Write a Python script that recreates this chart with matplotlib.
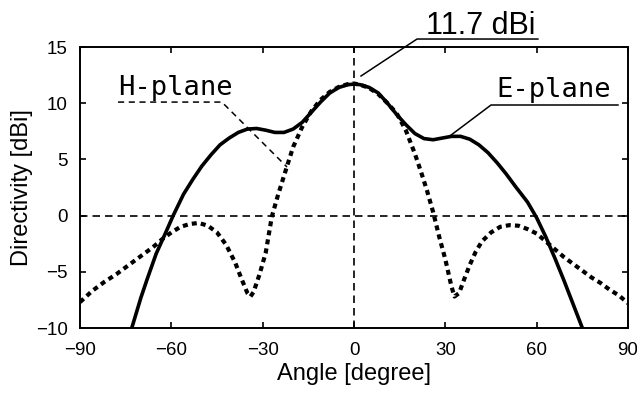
import matplotlib
matplotlib.use("Agg")
import matplotlib.pyplot as plt

# ---- data ----
e_angle = [-73, -70, -68, -65, -62, -59.4, -56, -53, -50, -47, -44, -41, -38, -35, -32, -29, -26, -23,
           -20, -17, -14, -11, -8, -5, -2, 0, 2, 5, 8, 11, 14, 17, 20, 23, 26, 29, 32, 35, 38, 41, 44,
           47, 50, 53, 57, 60, 63, 66, 69, 72, 75]
e_dbi = [-10, -7.3, -5.7, -3.4, -1.6, 0, 1.9, 3.2, 4.4, 5.4, 6.3, 6.9, 7.4, 7.7, 7.75, 7.6, 7.4, 7.4,
         7.7, 8.3, 9.2, 10.1, 10.9, 11.4, 11.65, 11.7, 11.65, 11.4, 10.9, 10.0, 9.0, 8.1, 7.3, 6.85,
         6.75, 6.9, 7.05, 7.05, 6.8, 6.3, 5.6, 4.7, 3.7, 2.6, 1.2, -0.2, -1.9, -3.8, -5.8, -7.9, -10]

h_angle = [-90, -86, -82, -78, -75, -72, -69, -66, -63, -60, -57, -54, -51, -48, -45, -42, -39, -37,
           -35, -34, -33, -31, -29, -27, -25, -22, -20, -17, -14, -11, -8, -5, -2, 0, 2, 5, 8, 11, 14,
           17, 20, 22, 24, 26, 28, 30, 32, 33, 34.5, 36, 38, 40, 42, 45, 48, 51, 54, 57, 60, 63, 66,
           69, 72, 75, 78, 81, 84, 87, 90]
h_dbi = [-7.7, -6.7, -5.9, -5.2, -4.6, -4.0, -3.4, -2.8, -2.1, -1.5, -1.0, -0.75, -0.65, -0.9, -1.5,
         -2.6, -4.2, -5.6, -6.9, -7.2, -6.8, -5.2, -3.3, -0.1, 1.8, 4.4, 6.1, 7.9, 9.3, 10.3, 11.0,
         11.45, 11.7, 11.75, 11.65, 11.35, 10.8, 10.0, 9.1, 7.6, 5.5, 3.9, 2.2, 0.3, -1.9, -3.9, -6.3,
         -7.2, -6.9, -5.8, -4.4, -3.2, -2.3, -1.5, -1.0, -0.85, -0.9, -1.2, -1.6, -2.3, -3.0, -3.7,
         -4.3, -4.9, -5.5, -6.0, -6.6, -7.1, -7.8]

x_ticks = [-90, -60, -30, 0, 30, 60, 90]
y_ticks = [-10, -5, 0, 5, 10, 15]
peak_label = "11.7 dBi"
h_label = "H-plane"
e_label = "E-plane"

# ---- figure ----
fig = plt.figure(figsize=(6.37, 3.95), dpi=100)
ax = fig.add_axes([0.1256, 0.1696, 0.8603, 0.7114])

ax.plot(e_angle, e_dbi, color="black", lw=2.6, solid_capstyle="butt", solid_joinstyle="round", zorder=4)
ax.plot(h_angle, h_dbi, color="black", lw=3.0, linestyle=(0, (1.2, 1.0)), zorder=4)

ax.axhline(0, color="black", lw=1.2, linestyle=(0, (4.5, 3)), zorder=2)
ax.axvline(0, color="black", lw=1.2, linestyle=(0, (4.5, 3)), zorder=2)

ax.set_xlim(-90, 90)
ax.set_ylim(-10, 15)
ax.set_xticks(x_ticks)
ax.set_yticks(y_ticks)
ax.set_xticklabels(["\u2212%d" % -v if v < 0 else "%d" % v for v in x_ticks])
ax.set_yticklabels(["\u2212%d" % -v if v < 0 else "%d" % v for v in y_ticks])
ax.tick_params(direction="in", length=4, width=1.2, top=True, right=True, labelsize=13.5)
ax.tick_params(axis="x", pad=10)
ax.tick_params(axis="y", pad=9)
for lab in ax.get_xticklabels() + ax.get_yticklabels():
    lab.set_family("Liberation Sans")
for s in ax.spines.values():
    s.set_linewidth(1.4)

ax.set_xlabel("Angle [degree]", fontsize=17, family="Liberation Sans", labelpad=3)
ax.set_ylabel("Directivity [dBi]", fontsize=17, family="Liberation Sans", labelpad=2)

# ---- annotations ----
# 11.7 dBi
ax.plot([2.3, 20.7, 60.4], [12.42, 15.71, 15.71], color="black", lw=1.1, clip_on=False, zorder=5)
ax.text(41.5, 16.2, peak_label, fontsize=22, family="Liberation Sans", ha="center",
        va="baseline", clip_on=False)

# H-plane
ax.plot([-77.5, -43.4, -22.0], [10.1, 10.1, 4.32], color="black", lw=1.1,
        linestyle=(0, (4, 3)), zorder=5)
ax.text(-77.5, 10.73, h_label, fontsize=19.5, family="DejaVu Sans Mono", ha="left",
        va="baseline")

# E-plane
ax.plot([31.9, 45.0, 86.7], [7.17, 9.84, 9.84], color="black", lw=1.1, zorder=5)
ax.text(46.6, 10.55, e_label, fontsize=19.5, family="DejaVu Sans Mono", ha="left",
        va="baseline")

fig.savefig("out.png", dpi=100)
